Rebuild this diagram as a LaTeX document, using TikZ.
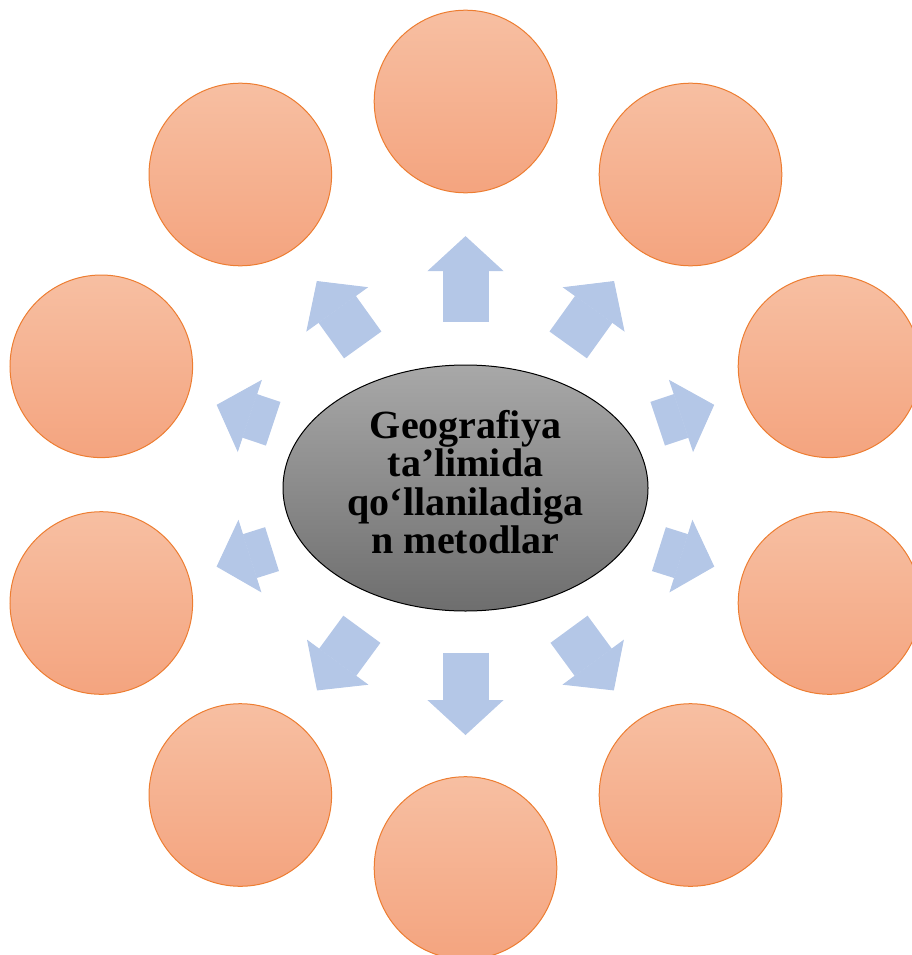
\documentclass[tikz,border=0pt]{standalone}
\usepackage{fontspec}
\setmainfont{Liberation Serif}
\usetikzlibrary{arrows.meta,shapes.geometric}
\definecolor{peach_top}{RGB}{247, 191, 162}
\definecolor{peach_bottom}{RGB}{244, 164, 127}
\definecolor{office_orange}{RGB}{237, 125, 49}
\definecolor{grey_top}{RGB}{168, 168, 168}
\definecolor{grey_bottom}{RGB}{110, 110, 110}
\definecolor{arrow_blue}{RGB}{180, 199, 231}

\begin{document}
\begin{tikzpicture}[x=1pt, y=-1pt,
					method/.style={circle, draw=office_orange, line width=1pt, minimum size=182.6pt, inner sep=0pt, top color=peach_top, bottom color=peach_bottom},
					core/.style={ellipse, draw=black, line width=1pt, minimum width=365pt, minimum height=246pt, inner sep=0pt, top color=grey_top, bottom color=grey_bottom},
					title/.style={align=center, font=\fontsize{40}{38.3}\selectfont\bfseries},
					flow/.style={draw=arrow_blue, line width=46pt, -{Triangle[width=76pt, length=35pt, line width=1pt]}},
				]
				\useasboundingbox (0,0) rectangle (911,955);

				\node[core] (geo) at (465.5,488) {};
				\node[title] (geo_text) at (465.5,482) {Geografiya\\ta’limida\\qo‘llaniladiga\\n metodlar};

				\node[method] (m1) at (465.5,101.5) {};
				\node[method] (m2) at (690.5,174.5) {};
				\node[method] (m3) at (829.5,366.3) {};
				\node[method] (m4) at (829.5,603) {};
				\node[method] (m5) at (690.5,795) {};
				\node[method] (m6) at (465.5,868) {};
				\node[method] (m7) at (240.3,795) {};
				\node[method] (m8) at (101.3,603) {};
				\node[method] (m9) at (101.3,366.3) {};
				\node[method] (m10) at (240.3,174.5) {};

				% block arrows from the centre out to every circle
				\foreach \i in {1,...,10} {
					\path (geo) -- (m\i) coordinate[pos=0.25] (s\i) coordinate[pos=0.75] (t\i);
					\draw[flow] (s\i) -- (t\i);
				}

			\end{tikzpicture}
\end{document}
